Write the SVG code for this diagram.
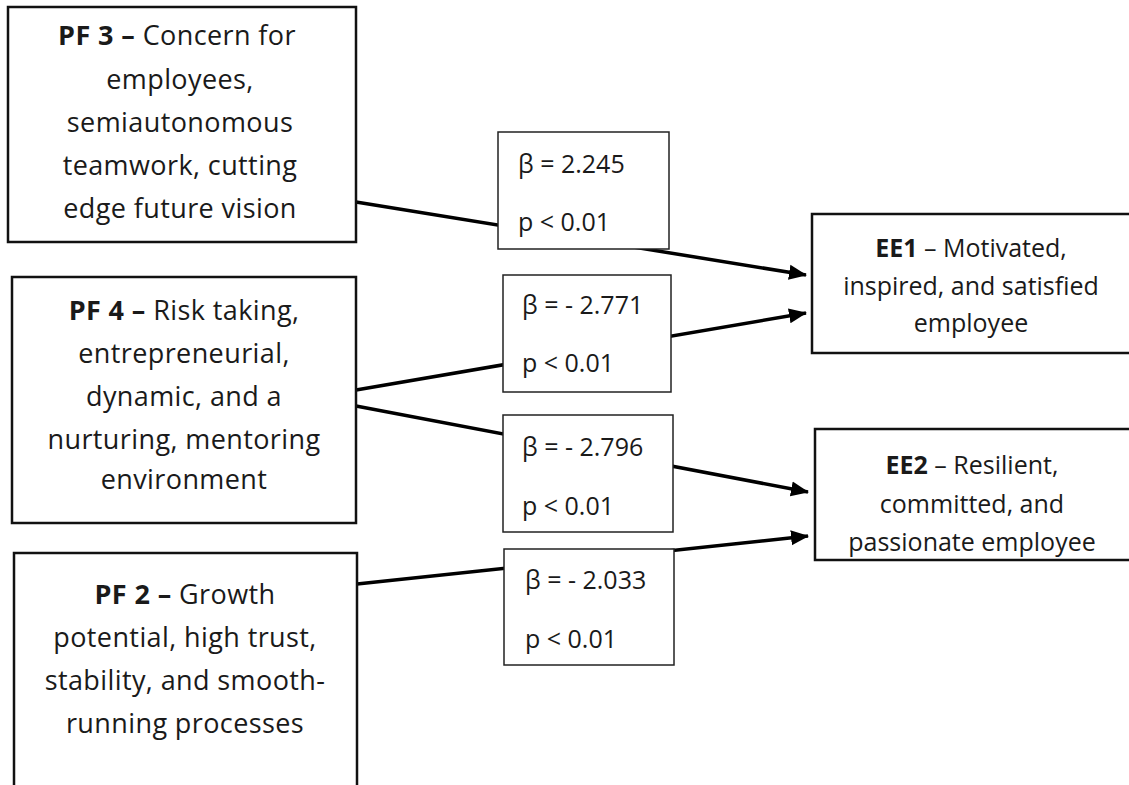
<svg xmlns="http://www.w3.org/2000/svg" width="1129" height="785" viewBox="0 0 1129 785">
<style>
.node{fill:#fff;stroke:#111;stroke-width:2.5}
.lab{fill:#fff;stroke:#222;stroke-width:1.5}
.t{font-family:"Open Sans","Noto Sans","DejaVu Sans",sans-serif;font-size:27px;letter-spacing:0.4px;fill:#1a1a1a;text-anchor:middle}
.e{font-family:"Open Sans","Noto Sans","DejaVu Sans",sans-serif;font-size:25px;fill:#1a1a1a;text-anchor:middle}
.l{font-family:"Open Sans","Noto Sans","DejaVu Sans",sans-serif;font-size:25px;fill:#1a1a1a}
.c{stroke:#000;stroke-width:3.5;fill:none;marker-end:url(#ah)}
</style>
<defs>
<marker id="ah" markerUnits="userSpaceOnUse" markerWidth="18" markerHeight="16" refX="17" refY="8" orient="auto">
<path d="M0,0.5 L18,8 L0,15.5 Z" fill="#000"/>
</marker>
</defs>
<rect width="1129" height="785" fill="#fff"/>
<g id="connectors">
<line class="c" x1="356" y1="202" x2="806" y2="275"/>
<line class="c" x1="356" y1="390" x2="806" y2="313"/>
<line class="c" x1="356" y1="406" x2="808" y2="492"/>
<line class="c" x1="357" y1="584" x2="808" y2="536"/>
</g>
<g id="pf3">
<rect class="node" x="8" y="7" width="348" height="235"/>
<text class="t" x="177" y="45"><tspan font-weight="bold">PF 3 –</tspan> Concern for</text>
<text class="t" x="180" y="89">employees,</text>
<text class="t" x="180" y="132">semiautonomous</text>
<text class="t" x="180" y="175">teamwork, cutting</text>
<text class="t" x="180" y="218">edge future vision</text>
</g>
<g id="pf4">
<rect class="node" x="12" y="277" width="344" height="246"/>
<text class="t" x="184" y="320"><tspan font-weight="bold">PF 4 –</tspan> Risk taking,</text>
<text class="t" x="184" y="363">entrepreneurial,</text>
<text class="t" x="184" y="406">dynamic, and a</text>
<text class="t" x="184" y="449">nurturing, mentoring</text>
<text class="t" x="184" y="489">environment</text>
</g>
<g id="pf2">
<rect class="node" x="14" y="553" width="343" height="260"/>
<text class="t" x="185" y="604"><tspan font-weight="bold">PF 2 –</tspan> Growth</text>
<text class="t" x="185" y="647">potential, high trust,</text>
<text class="t" x="185" y="690">stability, and smooth-</text>
<text class="t" x="185" y="733">running processes</text>
</g>
<g id="ee1">
<rect class="node" x="812" y="214" width="330" height="139"/>
<text class="e" x="971" y="257"><tspan font-weight="bold">EE1</tspan> – Motivated,</text>
<text class="e" x="971" y="295">inspired, and satisfied</text>
<text class="e" x="971" y="332">employee</text>
</g>
<g id="ee2">
<rect class="node" x="815" y="429" width="330" height="131"/>
<text class="e" x="972" y="474"><tspan font-weight="bold">EE2</tspan> – Resilient,</text>
<text class="e" x="972" y="513">committed, and</text>
<text class="e" x="972" y="551">passionate employee</text>
</g>
<g id="label1">
<rect class="lab" x="498" y="132" width="171" height="117"/>
<text class="l" x="518" y="173">β = 2.245</text>
<text class="l" x="518" y="231">p &lt; 0.01</text>
</g>
<g id="label2">
<rect class="lab" x="503" y="275" width="168" height="117"/>
<text class="l" x="522" y="314">β = - 2.771</text>
<text class="l" x="522" y="372">p &lt; 0.01</text>
</g>
<g id="label3">
<rect class="lab" x="503" y="415" width="170" height="117"/>
<text class="l" x="522" y="456">β = - 2.796</text>
<text class="l" x="522" y="515">p &lt; 0.01</text>
</g>
<g id="label4">
<rect class="lab" x="504" y="549" width="170" height="116"/>
<text class="l" x="525" y="589">β = - 2.033</text>
<text class="l" x="525" y="648">p &lt; 0.01</text>
</g>
</svg>
